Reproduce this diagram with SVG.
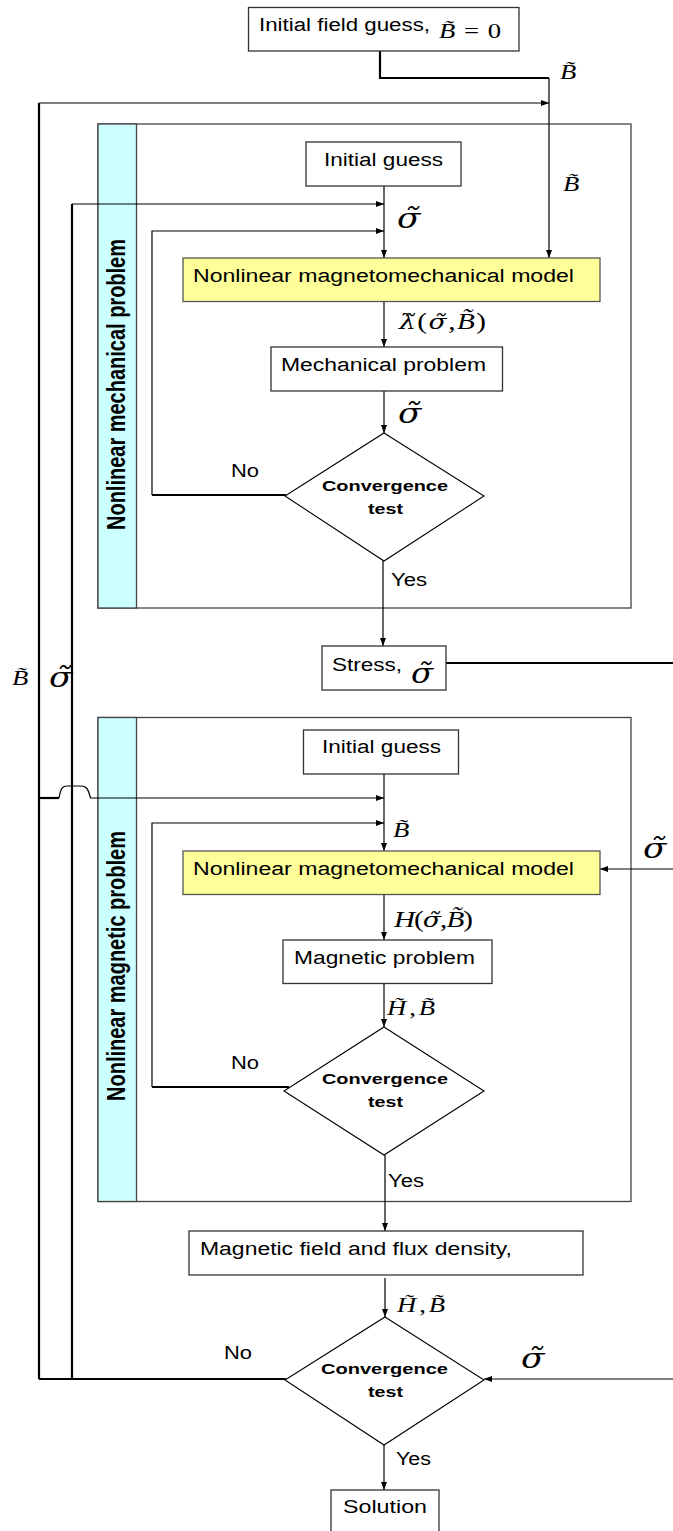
<svg xmlns="http://www.w3.org/2000/svg" width="673" height="1531" viewBox="0 0 673 1531">
<style>
.t{font-family:"Liberation Sans",Arial,sans-serif;font-size:18px;fill:#000}
.b{font-family:"Liberation Sans",Arial,sans-serif;font-weight:bold;font-size:15px;fill:#000}
.v{font-family:"Liberation Sans",Arial,sans-serif;font-weight:bold;font-size:20px;fill:#000}
.m{font-family:"Liberation Serif","Times New Roman",serif;fill:#000;font-size:21px}
.d{font-family:"DejaVu Serif",serif}
.i{font-style:italic}
.u{font-style:normal}
.s{font-size:27px}
.g{font-size:23px}
.q{font-size:21px}
.box{fill:#fff;stroke:#333;stroke-width:1.3}
.yel{fill:#ffff99;stroke:#555;stroke-width:1.3}
.pan{fill:none;stroke:#444;stroke-width:1.3}
.strip{fill:#ccffff;stroke:#444;stroke-width:1.3}
.dia{fill:#fff;stroke:#000;stroke-width:1.1}
.c{fill:none;stroke:#000;stroke-width:1.2}
.k{fill:none;stroke:#000;stroke-width:2.2}
</style>
<defs>
<marker id="arr" viewBox="0 0 8 6" refX="8" refY="3" markerWidth="8" markerHeight="6" orient="auto" markerUnits="userSpaceOnUse"><path d="M0,0 L8,3 L0,6 z" fill="#000"/></marker>
</defs>

<g id="panel-mechanical">
<rect class="pan" x="98" y="124" width="533" height="484"/>
<rect class="strip" x="98" y="124" width="38.5" height="484"/>
<text class="v" transform="translate(125,384.5) scale(1.25,1) rotate(-90)" text-anchor="middle">Nonlinear mechanical problem</text>
</g>
<g id="panel-magnetic">
<rect class="pan" x="98" y="717.5" width="533" height="484"/>
<rect class="strip" x="98" y="717.5" width="38.5" height="484"/>
<text class="v" transform="translate(125,966) scale(1.25,1) rotate(-90)" text-anchor="middle">Nonlinear magnetic problem</text>
</g>

<g id="connectors">
<path class="k" d="M380,51 V78 H549"/>
<path class="c" d="M549,78 V258" marker-end="url(#arr)"/>
<path class="k" d="M39,103 V1379"/>
<path class="c" d="M39,103 H549" marker-end="url(#arr)"/>
<path class="c" d="M384,186 V258" marker-end="url(#arr)"/>
<path class="k" d="M72,204 V1379"/>
<path class="c" d="M72,204 H384" marker-end="url(#arr)"/>
<path class="k" d="M286,495 H152"/>
<path class="c" d="M152,495 V231 H384" marker-end="url(#arr)"/>
<path class="c" d="M384,302 V347" marker-end="url(#arr)"/>
<path class="c" d="M384,391 V433" marker-end="url(#arr)"/>
<path class="c" d="M383,561 V646" marker-end="url(#arr)"/>
<path class="k" d="M446,663 H673"/>
<path class="c" d="M384,774 V851" marker-end="url(#arr)"/>
<path class="k" d="M39,798 H59"/>
<path class="c" d="M59,798 C61,787 63,786 67,786 L81,786 C86,786 88,788 90.5,798 H384" marker-end="url(#arr)"/>
<path class="k" d="M289,1087 H152"/>
<path class="c" d="M152,1087 V823 H384" marker-end="url(#arr)"/>
<path class="c" d="M673,869 H600" marker-end="url(#arr)"/>
<path class="c" d="M384,894 V940" marker-end="url(#arr)"/>
<path class="c" d="M384,983 V1027" marker-end="url(#arr)"/>
<path class="c" d="M385,1155 V1231" marker-end="url(#arr)"/>
<path class="c" d="M385,1278 V1317" marker-end="url(#arr)"/>
<path class="k" d="M286,1379 H39"/>
<path class="c" d="M673,1379 H484" marker-end="url(#arr)"/>
<path class="c" d="M384,1445 V1490" marker-end="url(#arr)"/>
</g>

<g id="labels">
<g transform="translate(560,79) scale(1.27,1)"><text class="m i">B̃</text></g>
<g transform="translate(563,191) scale(1.27,1)"><text class="m i">B̃</text></g>
<g transform="translate(397,228) scale(1.27,1)"><text class="m d i s">σ̃</text></g>
<g transform="translate(399,329) scale(1.27,1)"><text class="m g" textLength="68.5" lengthAdjust="spacing"><tspan class="d i q">λ̃</tspan>(<tspan class="d i q">σ̃</tspan>,<tspan class="i">B̃</tspan>)</text></g>
<g transform="translate(398,423) scale(1.27,1)"><text class="m d i s">σ̃</text></g>
<text class="t" x="231" y="477" textLength="28" lengthAdjust="spacingAndGlyphs">No</text>
<text class="t" x="391" y="586" textLength="36" lengthAdjust="spacingAndGlyphs">Yes</text>
<g transform="translate(12,685) scale(1.27,1)"><text class="m i">B̃</text></g>
<g transform="translate(49,687) scale(1.27,1)"><text class="m d i s">σ̃</text></g>
<g transform="translate(393,837) scale(1.27,1)"><text class="m i">B̃</text></g>
<g transform="translate(643,858) scale(1.27,1)"><text class="m d i s">σ̃</text></g>
<g transform="translate(394,927) scale(1.27,1)"><text class="m g" textLength="62.2" lengthAdjust="spacing"><tspan class="i">H</tspan>(<tspan class="d i q">σ̃</tspan>,<tspan class="i">B̃</tspan>)</text></g>
<g transform="translate(387,1015) scale(1.27,1)"><text class="m i" textLength="37.8" lengthAdjust="spacing">H̃<tspan class="u">,</tspan>B̃</text></g>
<text class="t" x="231" y="1069" textLength="28" lengthAdjust="spacingAndGlyphs">No</text>
<text class="t" x="388" y="1187" textLength="36" lengthAdjust="spacingAndGlyphs">Yes</text>
<g transform="translate(397,1312) scale(1.27,1)"><text class="m i" textLength="37.8" lengthAdjust="spacing">H̃<tspan class="u">,</tspan>B̃</text></g>
<text class="t" x="224" y="1359" textLength="28" lengthAdjust="spacingAndGlyphs">No</text>
<g transform="translate(521,1368) scale(1.27,1)"><text class="m d i s">σ̃</text></g>
<text class="t" x="396" y="1465" textLength="35" lengthAdjust="spacingAndGlyphs">Yes</text>
</g>

<g id="node-initial-field">
<rect class="box" x="248.5" y="7.5" width="270.5" height="43.5"/>
<text class="t" x="259" y="31" textLength="171" lengthAdjust="spacingAndGlyphs">Initial field guess,</text>
<g transform="translate(439,38) scale(1.27,1)"><text class="m" textLength="48.8" lengthAdjust="spacing"><tspan class="i">B̃</tspan>=0</text></g>
</g>
<g id="node-initial-guess-1">
<rect class="box" x="306" y="142" width="155" height="44"/>
<text class="t" x="324" y="166" textLength="119" lengthAdjust="spacingAndGlyphs">Initial guess</text>
</g>
<g id="node-model-1">
<rect class="yel" x="183" y="258" width="417" height="43.5"/>
<text class="t" x="193" y="282" textLength="381" lengthAdjust="spacingAndGlyphs">Nonlinear magnetomechanical model</text>
</g>
<g id="node-mechanical">
<rect class="box" x="271" y="347" width="231.5" height="44"/>
<text class="t" x="281" y="371" textLength="205" lengthAdjust="spacingAndGlyphs">Mechanical problem</text>
</g>
<g id="node-conv-1">
<polygon class="dia" points="384,433 484,496 384,561 285,496"/>
<text class="b" x="322" y="491" textLength="126" lengthAdjust="spacingAndGlyphs">Convergence</text>
<text class="b" x="368" y="514" textLength="35" lengthAdjust="spacingAndGlyphs">test</text>
</g>
<g id="node-stress">
<rect class="box" x="322" y="646" width="124" height="44"/>
<text class="t" x="332" y="671" textLength="70" lengthAdjust="spacingAndGlyphs">Stress,</text>
<g transform="translate(411,683) scale(1.2,1)"><text class="m d i s">σ̃</text></g>
</g>
<g id="node-initial-guess-2">
<rect class="box" x="303.5" y="730" width="155" height="44"/>
<text class="t" x="322" y="753" textLength="119" lengthAdjust="spacingAndGlyphs">Initial guess</text>
</g>
<g id="node-model-2">
<rect class="yel" x="183" y="851" width="417" height="43.5"/>
<text class="t" x="193" y="875" textLength="381" lengthAdjust="spacingAndGlyphs">Nonlinear magnetomechanical model</text>
</g>
<g id="node-magnetic">
<rect class="box" x="283" y="940" width="209" height="43.5"/>
<text class="t" x="294" y="964" textLength="181" lengthAdjust="spacingAndGlyphs">Magnetic problem</text>
</g>
<g id="node-conv-2">
<polygon class="dia" points="384,1027 484,1091 384,1155 284,1091"/>
<text class="b" x="322" y="1084" textLength="126" lengthAdjust="spacingAndGlyphs">Convergence</text>
<text class="b" x="368" y="1107" textLength="35" lengthAdjust="spacingAndGlyphs">test</text>
</g>
<g id="node-field">
<rect class="box" x="189" y="1231" width="394" height="44"/>
<text class="t" x="200" y="1255" textLength="312" lengthAdjust="spacingAndGlyphs">Magnetic field and flux density,</text>
</g>
<g id="node-conv-3">
<polygon class="dia" points="385,1317 484,1380 384,1445 285,1380"/>
<text class="b" x="321" y="1374" textLength="127" lengthAdjust="spacingAndGlyphs">Convergence</text>
<text class="b" x="368" y="1397" textLength="35" lengthAdjust="spacingAndGlyphs">test</text>
</g>
<g id="node-solution">
<rect class="box" x="331" y="1490" width="108" height="50"/>
<text class="t" x="343" y="1513" textLength="84" lengthAdjust="spacingAndGlyphs">Solution</text>
</g>
</svg>
